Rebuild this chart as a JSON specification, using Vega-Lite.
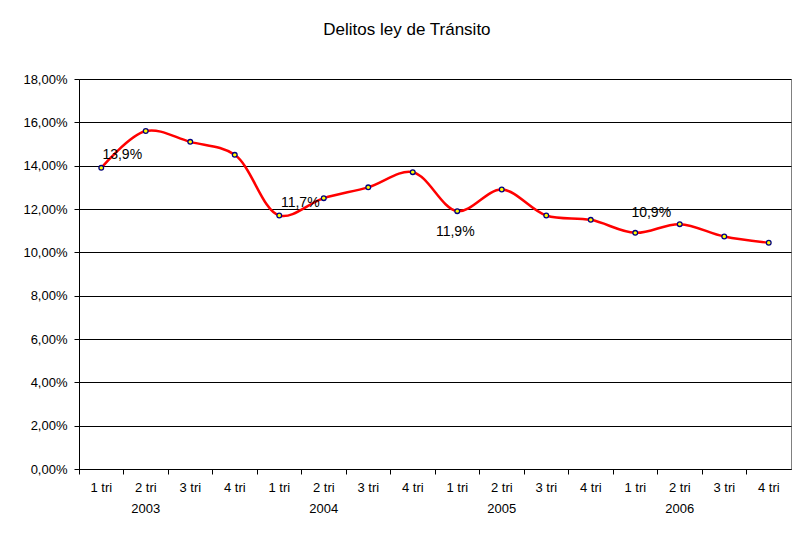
{
  "$schema": "https://vega.github.io/schema/vega-lite/v6.json",
  "autosize": {"type": "none"},
  "padding": {"left": 79, "top": 79, "right": 15, "bottom": 68},
  "width": 712,
  "height": 390,
  "background": "white",
  "title": {
    "text": "Delitos ley de Tránsito",
    "font": "Liberation Sans",
    "fontSize": 17,
    "fontWeight": "normal",
    "color": "black",
    "anchor": "middle",
    "frame": "bounds",
    "baseline": "alphabetic",
    "offset": 21
  },
  "config": {
    "font": "Liberation Sans",
    "view": {"stroke": "#808080", "strokeWidth": 1}
  },
  "data": {
    "values": [
      {"periodo": "1 tri|2003", "valor": 13.9, "etiqueta": "13,9%"},
      {"periodo": "2 tri|2003", "valor": 15.6, "etiqueta": null},
      {"periodo": "3 tri|2003", "valor": 15.1, "etiqueta": null},
      {"periodo": "4 tri|2003", "valor": 14.5, "etiqueta": null},
      {"periodo": "1 tri|2004", "valor": 11.7, "etiqueta": "11,7%"},
      {"periodo": "2 tri|2004", "valor": 12.5, "etiqueta": null},
      {"periodo": "3 tri|2004", "valor": 13.0, "etiqueta": null},
      {"periodo": "4 tri|2004", "valor": 13.7, "etiqueta": null},
      {"periodo": "1 tri|2005", "valor": 11.9, "etiqueta": "11,9%"},
      {"periodo": "2 tri|2005", "valor": 12.9, "etiqueta": null},
      {"periodo": "3 tri|2005", "valor": 11.7, "etiqueta": null},
      {"periodo": "4 tri|2005", "valor": 11.5, "etiqueta": null},
      {"periodo": "1 tri|2006", "valor": 10.9, "etiqueta": "10,9%"},
      {"periodo": "2 tri|2006", "valor": 11.3, "etiqueta": null},
      {"periodo": "3 tri|2006", "valor": 10.73, "etiqueta": null},
      {"periodo": "4 tri|2006", "valor": 10.44, "etiqueta": null}
    ]
  },
  "layer": [
    {
      "mark": {"type": "line", "interpolate": "catmull-rom", "color": "#FF0000", "strokeWidth": 2.5},
      "encoding": {
        "x": {
          "field": "periodo", "type": "nominal", "sort": null,
          "scale": {"type": "band", "paddingInner": 0, "paddingOuter": 0},
          "axis": {
            "orient": "bottom", "title": null, "labels": false, "grid": false,
            "ticks": true, "tickSize": 5, "tickColor": "black", "bandPosition": 0,
            "domain": true, "domainColor": "black", "domainWidth": 1
          }
        },
        "y": {
          "field": "valor", "type": "quantitative",
          "scale": {"domain": [0, 18], "nice": false, "zero": true},
          "axis": {
            "title": null,
            "values": [0, 2, 4, 6, 8, 10, 12, 14, 16, 18],
            "labelExpr": "replace(format(datum.value, '.2f'), '.', ',') + '%'",
            "labelFont": "Liberation Sans", "labelFontSize": 13, "labelColor": "black",
            "labelPadding": 7, "tickSize": 5, "tickColor": "black",
            "domainColor": "black", "grid": true, "gridColor": "black", "gridWidth": 1
          }
        }
      }
    },
    {
      "mark": {"type": "point", "filled": true, "fill": "#FFFF00", "stroke": "#000080", "strokeWidth": 1.3, "size": 22, "opacity": 1},
      "encoding": {
        "x": {
          "field": "periodo", "type": "nominal", "sort": null,
          "axis": {
            "orient": "bottom", "title": null, "ticks": false, "tickSize": 0, "domain": false, "grid": false,
            "bandPosition": 0.5, "labelAngle": 0,
            "labelExpr": "split(datum.value, '|')[0] == '2 tri' ? split(datum.value, '|') : split(datum.value, '|')[0]",
            "labelFont": "Liberation Sans", "labelFontSize": 13, "labelColor": "black",
            "labelPadding": 12, "labelLineHeight": 21, "labelBaseline": "top"
          }
        },
        "y": {"field": "valor", "type": "quantitative"}
      }
    },
    {
      "transform": [{"filter": "datum.periodo == '1 tri|2003' || datum.periodo == '1 tri|2004'"}],
      "mark": {"type": "text", "font": "Liberation Sans", "fontSize": 14, "color": "black", "align": "center", "baseline": "middle", "dx": 21, "dy": -13},
      "encoding": {
        "x": {"field": "periodo", "type": "nominal", "sort": null, "axis": null},
        "y": {"field": "valor", "type": "quantitative"},
        "text": {"field": "etiqueta"}
      }
    },
    {
      "transform": [{"filter": "datum.periodo == '1 tri|2005'"}],
      "mark": {"type": "text", "font": "Liberation Sans", "fontSize": 14, "color": "black", "align": "center", "baseline": "middle", "dx": -2, "dy": 21},
      "encoding": {
        "x": {"field": "periodo", "type": "nominal", "sort": null, "axis": null},
        "y": {"field": "valor", "type": "quantitative"},
        "text": {"field": "etiqueta"}
      }
    },
    {
      "transform": [{"filter": "datum.periodo == '1 tri|2006'"}],
      "mark": {"type": "text", "font": "Liberation Sans", "fontSize": 14, "color": "black", "align": "center", "baseline": "middle", "dx": 16, "dy": -20},
      "encoding": {
        "x": {"field": "periodo", "type": "nominal", "sort": null, "axis": null},
        "y": {"field": "valor", "type": "quantitative"},
        "text": {"field": "etiqueta"}
      }
    }
  ],
  "resolve": {"axis": {"x": "independent"}}
}
